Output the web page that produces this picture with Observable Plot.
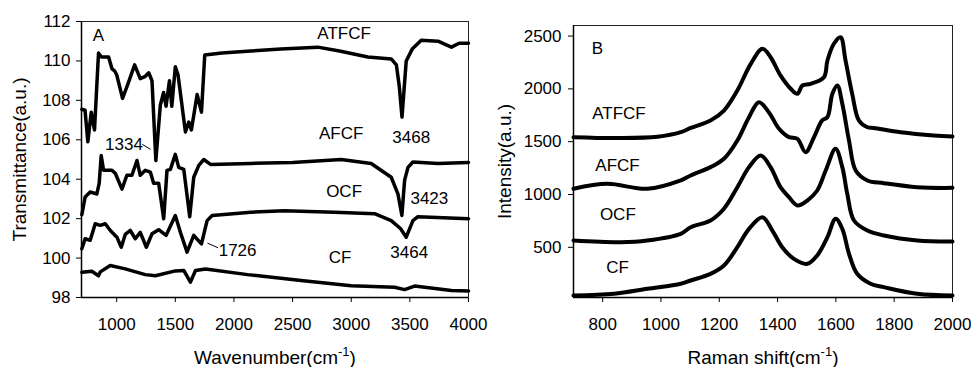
<!DOCTYPE html>
<html><head><meta charset="utf-8">
<script src="https://cdn.jsdelivr.net/npm/d3@7"></script>
<script src="https://cdn.jsdelivr.net/npm/@observablehq/plot@0.6"></script>
<style>
body{margin:0;background:#fff}
#wrap{display:flex;width:971px;height:367px;overflow:hidden;background:#fff}
#wrap svg{overflow:visible}
</style>
</head><body><div id="wrap"></div>
<script>
// ---------- Panel A : FTIR ----------
const ftirDomainX = [700, 4000];
const ftirDomainY = [98, 112];
const ftirTicksX = [1000, 1500, 2000, 2500, 3000, 3500, 4000];
const ftirTicksY = [98, 100, 102, 104, 106, 108, 110, 112];
const ftirTitleX = "Wavenumber(cm-1)";
const ftirTitleY = "Transmittance(a.u.)";

const ftirATFCF = [[703,107.55],[730,107.5],[754,105.9],[783,107.4],[811,106.5],[845,110.4],[870,110.2],[931,110.2],[960,109.6],[982,109.5],[1000,109.3],[1050,108.1],[1100,108.9],[1153,109.8],[1201,109.1],[1240,109.2],[1273,109.4],[1301,109.0],[1334,104.95],[1372,107.75],[1400,108.4],[1421,107.7],[1450,109.0],[1470,107.7],[1500,109.7],[1523,109.3],[1586,106.4],[1615,106.9],[1637,106.5],[1686,108.3],[1723,107.4],[1751,110.3],[1897,110.4],[2144,110.5],[2400,110.6],[2714,110.7],[2900,110.5],[3142,110.2],[3341,110.1],[3385,109.8],[3410,108.7],[3433,107.15],[3450,108.5],[3469,110.0],[3520,110.6],[3597,111.05],[3740,111.0],[3854,110.7],[3920,110.9],[4000,110.9]];
const ftirAFCF = [[703,102.2],[731,103.1],[774,103.35],[831,103.25],[851,103.8],[868,105.2],[888,104.45],[960,104.45],[988,104.3],[1045,103.5],[1087,104.2],[1130,104.2],[1173,104.95],[1201,104.2],[1244,104.45],[1287,104.36],[1315,103.8],[1358,103.8],[1401,102.0],[1429,104.45],[1458,104.5],[1500,105.26],[1529,104.6],[1572,104.5],[1623,102.1],[1657,104.1],[1700,104.7],[1743,105.0],[1800,104.75],[2144,104.8],[2500,104.85],[2914,105.0],[3170,104.8],[3341,104.1],[3398,103.26],[3432,102.16],[3455,103.94],[3484,104.6],[3526,104.87],[3740,104.8],[4000,104.85]];
const ftirOCF = [[703,100.47],[731,100.98],[774,100.9],[817,101.74],[860,101.66],[903,101.74],[946,101.4],[1002,101.06],[1039,100.55],[1073,101.2],[1116,101.4],[1159,100.98],[1201,101.3],[1253,100.55],[1301,101.23],[1358,101.44],[1421,101.15],[1500,102.16],[1544,101.3],[1600,100.3],[1657,101.15],[1695,100.9],[1723,100.72],[1771,101.9],[1814,102.16],[2144,102.33],[2429,102.4],[2856,102.33],[3199,102.25],[3341,101.9],[3420,101.5],[3469,101.06],[3526,101.9],[3569,102.1],[4000,102.0]];
const ftirCF = [[703,99.28],[788,99.33],[845,99.1],[860,99.3],[945,99.62],[1073,99.45],[1244,99.16],[1330,99.1],[1500,99.35],[1572,99.37],[1629,98.78],[1672,99.37],[1758,99.45],[2116,99.16],[2572,98.86],[2999,98.6],[3370,98.52],[3455,98.4],[3540,98.58],[3854,98.35],[4000,98.33]];

const ftirLabels = [
  {label:"A", x:845, y:111.3},
  {label:"ATFCF", x:2939, y:111.4},
  {label:"AFCF", x:2914, y:106.32},
  {label:"3468", x:3512, y:106.12},
  {label:"OCF", x:2939, y:103.35},
  {label:"3423", x:3666, y:103.03},
  {label:"3464", x:3495, y:100.3},
  {label:"CF", x:2905, y:100.03},
  {label:"1726", x:2031, y:100.39},
  {label:"1334", x:1062, y:105.77}
];
const ftirLeaders = [
  {x1:1218, y1:105.77, x2:1290, y2:105.51},
  {x1:1774, y1:100.76, x2:1865, y2:100.52}
];

// ---------- Panel B : Raman ----------
const ramanDomainX = [700, 2000];
const ramanDomainY = [25, 2600];
const ramanTicksX = [800, 1000, 1200, 1400, 1600, 1800, 2000];
const ramanTicksY = [500, 1000, 1500, 2000, 2500];
const ramanTitleX = "Raman shift(cm-1)";
const ramanTitleY = "Intensity(a.u.)";

const ramanATFCF = [[700,1543],[850,1535],[988,1547],[1068,1590],[1102,1630],[1170,1701],[1216,1795],[1262,1985],[1308,2237],[1348,2379],[1376,2300],[1410,2127],[1445,2001],[1468,1953],[1485,2032],[1513,2048],[1559,2111],[1571,2269],[1593,2427],[1616,2489],[1633,2269],[1656,1953],[1679,1701],[1708,1637],[1730,1630],[1822,1590],[1936,1559],[2000,1549]];
const ramanAFCF = [[700,1054],[816,1101],[953,1054],[1068,1133],[1102,1180],[1170,1259],[1216,1338],[1262,1511],[1302,1732],[1336,1874],[1370,1779],[1405,1622],[1439,1543],[1468,1527],[1496,1401],[1525,1543],[1553,1701],[1571,1732],[1588,1953],[1605,2032],[1622,1859],[1645,1511],[1668,1227],[1708,1133],[1765,1107],[1879,1069],[2000,1063]];
const ramanOCF = [[700,565],[862,549],[953,565],[1068,628],[1102,690],[1170,754],[1216,865],[1262,1069],[1302,1259],[1342,1369],[1376,1259],[1410,1069],[1439,975],[1468,896],[1502,943],[1536,1038],[1565,1227],[1599,1433],[1622,1259],[1639,1007],[1662,754],[1708,659],[1765,612],[1879,565],[2000,556]];
const ramanCF = [[700,44],[839,60],[953,107],[1068,155],[1102,186],[1170,249],[1216,328],[1262,501],[1302,675],[1348,785],[1382,659],[1416,501],[1456,391],[1502,344],[1536,423],[1571,596],[1599,770],[1622,675],[1645,439],[1673,249],[1719,155],[1765,123],[1879,60],[2000,44]];

const ramanLabels = [
  {label:"B", x:782, y:2379},
  {label:"ATFCF", x:856, y:1764},
  {label:"AFCF", x:851, y:1275},
  {label:"OCF", x:852, y:808},
  {label:"CF", x:851, y:306}
];

// ---------- helpers ----------
const FONT = "'Liberation Sans', Arial, Helvetica, sans-serif";
const rows = (series, pts) => pts.map(([x, y]) => ({series, x, y}));

function superscript(svg, raw) {
  d3.select(svg).selectAll("text")
    .filter(function () { return this.textContent === raw; })
    .each(function () {
      const i = raw.indexOf("-1");
      const t = d3.select(this);
      t.text(null);
      t.append("tspan").text(raw.slice(0, i));
      t.append("tspan").attr("font-size", "13px").attr("dy", "-8").text("-1");
      t.append("tspan").attr("dy", "8").text(raw.slice(i + 2));
    });
}

function panel({width, marginLeft, marginRight, marginTop, domainX, domainY, ticksX, ticksY,
                series, curve, strokeWidth, labels, leaders, titleX, titleY, titleYdx, tickPadY}) {
  const data = series.flatMap(([name, pts]) => rows(name, pts));
  const marks = [
    Plot.frame({stroke: "#222", strokeWidth: 1}),
    Plot.ruleX([domainX[0]], {stroke: "#000", strokeWidth: 1.5}),
    Plot.ruleY([domainY[0]], {stroke: "#000", strokeWidth: 1.5}),
    Plot.line(data, {x: "x", y: "y", z: "series", stroke: "#000", strokeWidth, curve, strokeLinejoin: "round", strokeLinecap: "round"}),
    Plot.text(labels, {x: "x", y: "y", text: "label", fontSize: 17, lineAnchor: "middle", fill: "#000"}),
    Plot.text([titleX], {text: d => d, frameAnchor: "bottom", dy: 53, textAnchor: "middle", lineAnchor: "top", fontSize: 19, fill: "#000"}),
    Plot.text([titleY], {text: d => d, frameAnchor: "left", dx: titleYdx, rotate: -90, textAnchor: "middle", lineAnchor: "middle", fontSize: 19, fill: "#000"})
  ];
  if (leaders) marks.push(Plot.link(leaders, {x1: "x1", y1: "y1", x2: "x2", y2: "y2", stroke: "#000", strokeWidth: 1}));
  const svg = Plot.plot({
    width, height: 367, marginLeft, marginRight, marginTop, marginBottom: 70,
    style: {fontFamily: FONT, fontSize: "17px", color: "#000", background: "transparent", overflow: "visible"},
    x: {domain: domainX, ticks: ticksX, tickSize: 5, tickPadding: 15, tickFormat: d => String(d), label: null},
    y: {domain: domainY, ticks: ticksY, tickSize: 5, tickPadding: tickPadY, tickFormat: d => String(d), label: null},
    marks
  });
  superscript(svg, titleX);
  return svg;
}

const wrap = document.getElementById("wrap");
wrap.append(panel({
  width: 485, marginLeft: 81, marginRight: 17, marginTop: 21,
  domainX: ftirDomainX, domainY: ftirDomainY, ticksX: ftirTicksX, ticksY: ftirTicksY,
  series: [["ATFCF", ftirATFCF], ["AFCF", ftirAFCF], ["OCF", ftirOCF], ["CF", ftirCF]],
  curve: "linear", strokeWidth: 3.5, labels: ftirLabels, leaders: ftirLeaders,
  titleX: ftirTitleX, titleY: ftirTitleY, titleYdx: -62, tickPadY: 6
}));
wrap.append(panel({
  width: 486, marginLeft: 88, marginRight: 19, marginTop: 25,
  domainX: ramanDomainX, domainY: ramanDomainY, ticksX: ramanTicksX, ticksY: ramanTicksY,
  series: [["ATFCF", ramanATFCF], ["AFCF", ramanAFCF], ["OCF", ramanOCF], ["CF", ramanCF]],
  curve: "catmull-rom", strokeWidth: 4, labels: ramanLabels, leaders: null,
  titleX: ramanTitleX, titleY: ramanTitleY, titleYdx: -69, tickPadY: 7
}));
</script>
</body></html>
